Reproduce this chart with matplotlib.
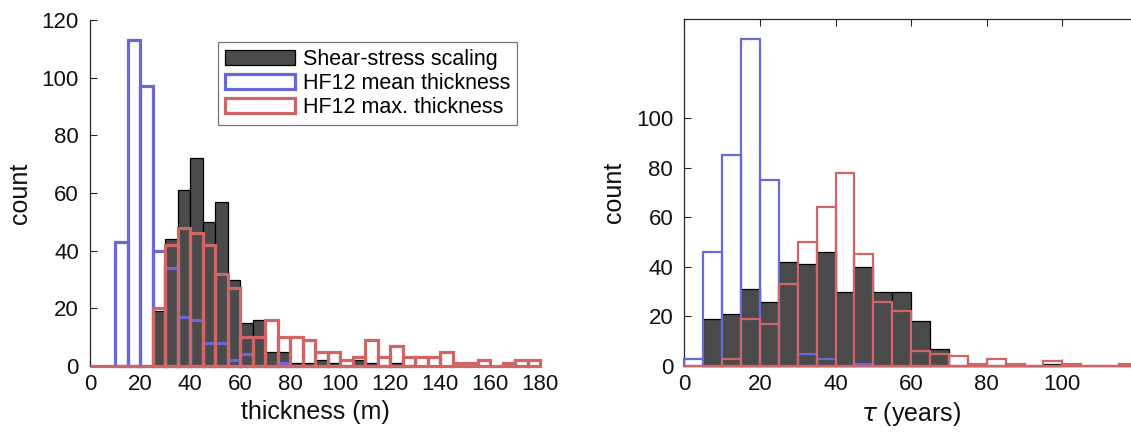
import numpy as np
import matplotlib
matplotlib.use("Agg")
import matplotlib.pyplot as plt
from matplotlib.patches import Patch

plt.rcParams['font.family'] = ['Liberation Sans', 'DejaVu Sans']

# ---------------- data ----------------
bin_width = 5

# left panel: thickness (m)
thick_shear_start = 25
thick_shear = [19, 44, 61, 72, 50, 57, 30, 15, 16, 5, 5, 1, 1, 2, 1, 0, 2, 1, 0, 1, 0]
thick_mean_start = 10
thick_mean = [43, 113, 97, 40, 34, 17, 16, 8, 8, 2, 4, 0, 0, 1,
              0, 0, 0, 0, 0, 0, 0, 0, 0, 0]
thick_max_start = 0
thick_max = [0, 0, 0, 0, 0,
             20, 42, 48, 46, 42, 32, 27, 10, 10, 16, 10, 10, 9, 5, 5, 2, 3, 9, 3, 7,
             3, 3, 3, 5, 1, 1, 2, 0, 1, 2, 2]

# right panel: tau (years)
tau_shear_start = 5
tau_shear = [19, 21, 31, 26, 42, 41, 46, 30, 40, 30, 30, 18, 7, 0, 1, 0, 0, 0, 1]
tau_mean_start = 0
tau_mean = [3, 46, 85, 132, 75, 33, 5, 3, 0, 1,
            0, 0, 0, 0, 0, 0, 0, 0, 0, 0, 0, 0, 0, 0]
tau_max_start = 0
tau_max = [0, 0, 3, 19, 17, 33, 50, 64, 78, 45, 26, 22, 6, 5, 4, 1, 3, 1, 0, 2,
           1, 0, 0, 1]

legend_labels = ["Shear-stress scaling", "HF12 mean thickness", "HF12 max. thickness"]

left_xticks = [0, 20, 40, 60, 80, 100, 120, 140, 160, 180]
left_yticks = [0, 20, 40, 60, 80, 100, 120]
right_xticks = [0, 20, 40, 60, 80, 100]
right_yticks = [0, 20, 40, 60, 80, 100]

# ---------------- style ----------------
FACE = '#4a4a4a'
BLUE = '#6868d8'
RED = '#cf6565'
AXC = '#262626'
TXT = '#111111'

fig = plt.figure(figsize=(11.31, 4.32), dpi=100)

W, H = 1131, 432
ax1 = fig.add_axes([90 / W, (H - 366) / H, 450 / W, 346 / H])
ax2 = fig.add_axes([684.3 / W, (H - 366) / H, 453.6 / W, 347 / H])


def draw_hist(ax, start, vals, **kw):
    vals = np.asarray(vals, dtype=float)
    lefts = start + bin_width * np.arange(len(vals))
    bars = ax.bar(lefts, vals, width=bin_width, align='edge', **kw)
    for b in bars:
        b.set_clip_on(False)
    return bars


# left panel
draw_hist(ax1, thick_shear_start, thick_shear, color=FACE, edgecolor='black', linewidth=0.9, zorder=2)
draw_hist(ax1, thick_mean_start, thick_mean, fill=False, edgecolor=BLUE, linewidth=2.3, zorder=3)
draw_hist(ax1, thick_max_start, thick_max, fill=False, edgecolor=RED, linewidth=2.3, zorder=4)

# right panel
draw_hist(ax2, tau_shear_start, tau_shear, color=FACE, edgecolor='black', linewidth=0.9, zorder=2)
draw_hist(ax2, tau_mean_start, tau_mean, fill=False, edgecolor=BLUE, linewidth=1.6, zorder=3)
draw_hist(ax2, tau_max_start, tau_max, fill=False, edgecolor=RED, linewidth=1.6, zorder=4)

for ax in (ax1, ax2):
    for s in ax.spines.values():
        s.set_color(AXC)
        s.set_linewidth(0.9)
        s.set_zorder(1)
    ax.tick_params(direction='in', length=5, width=0.8, colors=AXC,
                   labelsize=16, labelcolor=TXT)
    ax.tick_params(axis='y', pad=8)
    ax.tick_params(axis='x', pad=6)
    ax.set_ylabel('count', fontsize=18, color=TXT, labelpad=7)

ax1.set_xlim(0, 180)
ax1.set_ylim(0, 120)
ax1.set_xticks(left_xticks)
ax1.set_yticks(left_yticks)
ax1.spines['top'].set_visible(False)
ax1.spines['right'].set_visible(False)
ax1.set_xlabel('thickness (m)', fontsize=18, color=TXT, labelpad=3)

ax2.set_xlim(0, 120)
ax2.set_ylim(0, 140)
ax2.set_xticks(right_xticks)
ax2.set_yticks(right_yticks)
ax2.tick_params(top=True, right=True)
ax2.set_xlabel(r'$\tau$ (years)', fontsize=18, color=TXT, labelpad=3)

handles = [Patch(facecolor=FACE, edgecolor='black', linewidth=0.9),
           Patch(facecolor='white', edgecolor=BLUE, linewidth=2.3),
           Patch(facecolor='white', edgecolor=RED, linewidth=2.3)]
leg = ax1.legend(handles, legend_labels, loc='upper right',
                 bbox_to_anchor=(0.949, 0.936), fontsize=15.5,
                 frameon=True, fancybox=False, edgecolor='#555555',
                 handlelength=3.25, handleheight=0.7, labelspacing=0.15,
                 handletextpad=0.4, borderpad=0.3, borderaxespad=0)
leg.get_frame().set_linewidth(0.9)

fig.savefig('out.png', dpi=100)
